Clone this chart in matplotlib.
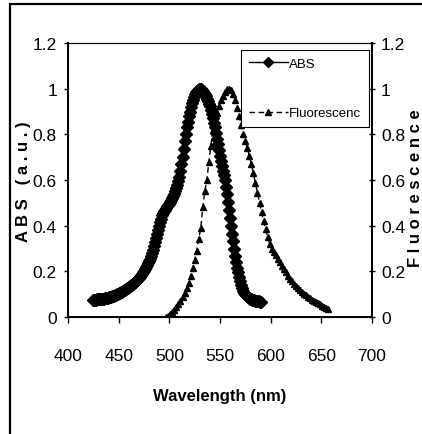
import matplotlib
matplotlib.use("Agg")
import matplotlib.pyplot as plt
from matplotlib.patches import Rectangle
from matplotlib.ticker import FormatStrFormatter, MultipleLocator

plt.rcParams['font.family'] = ['Liberation Sans', 'DejaVu Sans']

# absorption spectrum, one reading per nm from 425 to 590 nm
abs_nm = list(range(425, 591))
abs_val = [0.075, 0.075, 0.076, 0.076, 0.077, 0.077, 0.078, 0.078, 0.079, 0.079,
           0.080, 0.081, 0.082, 0.083, 0.084, 0.086, 0.087, 0.089, 0.090, 0.092,
           0.094, 0.096, 0.098, 0.100, 0.102, 0.104, 0.106, 0.109, 0.111, 0.114,
           0.117, 0.120, 0.123, 0.126, 0.129, 0.132, 0.135, 0.139, 0.142, 0.146,
           0.150, 0.154, 0.158, 0.162, 0.167, 0.172, 0.177, 0.183, 0.189, 0.196,
           0.203, 0.211, 0.219, 0.227, 0.236, 0.245, 0.256, 0.268, 0.281, 0.295,
           0.310, 0.327, 0.345, 0.363, 0.381, 0.398, 0.415, 0.431, 0.445, 0.455,
           0.463, 0.470, 0.478, 0.484, 0.490, 0.497, 0.504, 0.512, 0.520, 0.530,
           0.540, 0.553, 0.566, 0.580, 0.596, 0.615, 0.640, 0.668, 0.700, 0.735,
           0.770, 0.800, 0.830, 0.856, 0.880, 0.900, 0.920, 0.937, 0.951, 0.964,
           0.975, 0.984, 0.991, 0.996, 0.999, 1.000, 0.999, 0.995, 0.990, 0.983,
           0.975, 0.966, 0.956, 0.945, 0.934, 0.922, 0.906, 0.888, 0.870, 0.850,
           0.830, 0.806, 0.781, 0.756, 0.730, 0.705, 0.683, 0.662, 0.641, 0.620,
           0.600, 0.570, 0.537, 0.502, 0.468, 0.435, 0.400, 0.365, 0.331, 0.297,
           0.265, 0.239, 0.216, 0.195, 0.175, 0.157, 0.141, 0.127, 0.116, 0.107,
           0.100, 0.095, 0.091, 0.087, 0.083, 0.080, 0.078, 0.076, 0.075, 0.073,
           0.072, 0.070, 0.069, 0.068, 0.067, 0.066]

# fluorescence spectrum, every 2 nm from 497 to 657 nm
fl_nm = list(range(497, 658, 2))
fl_val = [0.000, 0.005, 0.013, 0.022, 0.032, 0.045, 0.058, 0.072, 0.088, 0.105,
          0.125, 0.150, 0.180, 0.215, 0.250, 0.290, 0.340, 0.390, 0.480, 0.550,
          0.600, 0.680, 0.750, 0.820, 0.865, 0.895, 0.925, 0.950, 0.970, 0.985,
          0.997, 1.000, 0.993, 0.975, 0.950, 0.915, 0.880, 0.840, 0.800, 0.770,
          0.740, 0.705, 0.670, 0.630, 0.585, 0.545, 0.500, 0.460, 0.420, 0.385,
          0.350, 0.320, 0.300, 0.285, 0.270, 0.255, 0.240, 0.225, 0.210, 0.195,
          0.180, 0.168, 0.157, 0.146, 0.136, 0.127, 0.118, 0.110, 0.102, 0.095,
          0.088, 0.082, 0.076, 0.070, 0.065, 0.060, 0.055, 0.050, 0.045, 0.040,
          0.036]

xticks = [400, 450, 500, 550, 600, 650, 700]

W, H = 422, 435
fig = plt.figure(figsize=(W / 100, H / 100), dpi=100)
fig.patch.set_facecolor('white')

# outer border, right and bottom edges run off the page
fig.add_artist(Rectangle((10 / W, -0.2), 1.2, 1 - 5 / H + 0.2,
                         transform=fig.transFigure, fill=False,
                         edgecolor='black', linewidth=1.6))

ax = fig.add_axes([68 / W, 1 - 318 / H, 304 / W, 274 / H])
ax.plot(abs_nm, abs_val, '-', color='black', linewidth=2.5,
        marker='D', markersize=6, label='ABS')
ax.plot(fl_nm, fl_val, color='black', linewidth=1.0, dashes=(4, 2.5),
        marker='^', markersize=5, label='Fluorescenc')

ax.set_xlim(400, 700)
ax.set_ylim(0, 1.2)
ax.set_xticks(xticks)
ax.yaxis.set_major_locator(MultipleLocator(0.2))
ax.yaxis.set_major_formatter(FormatStrFormatter('%g'))
ax.tick_params(axis='x', direction='out', length=4, width=1, labelsize=12.5, pad=18)
ax.tick_params(axis='y', direction='out', length=3, width=1, labelsize=12.5, pad=5)
for side in ['left', 'bottom', 'right']:
    ax.spines[side].set_linewidth(1.4)
ax.spines['top'].set_linewidth(0.8)
ax.spines['top'].set_color('#555555')

ax2 = ax.twinx()
ax2.set_ylim(0, 1.2)
ax2.yaxis.set_major_locator(MultipleLocator(0.2))
ax2.yaxis.set_major_formatter(FormatStrFormatter('%g'))
ax2.tick_params(axis='y', direction='inout', length=5, width=1, labelsize=12.5, pad=4)
ax2.spines['right'].set_linewidth(1.4)

leg = ax.legend(loc='upper right', bbox_to_anchor=(0.99, 0.975), fontsize=9.5,
                frameon=True, fancybox=False, framealpha=1, edgecolor='black',
                handlelength=2.9, handletextpad=0.1, labelspacing=2.8,
                borderpad=0.6, borderaxespad=0, numpoints=1)
leg.get_frame().set_linewidth(0.8)
for h in leg.get_lines():
    h.set_linewidth(1.0)
    h.set_markersize(5)

fig.text(220 / W, 1 - 397 / H, 'Wavelength (nm)', ha='center', va='center',
         fontsize=12, fontweight='bold')
fig.text(24 / W, 1 - 182 / H, 'A B S   ( a . u . )', rotation=90,
         ha='center', va='center', fontsize=12, fontweight='bold')
fig.text(416 / W, 1 - 188 / H, 'F l u o r e s c e n c e', rotation=90,
         ha='center', va='center', fontsize=12, fontweight='bold')

fig.savefig('out.png', dpi=100)
